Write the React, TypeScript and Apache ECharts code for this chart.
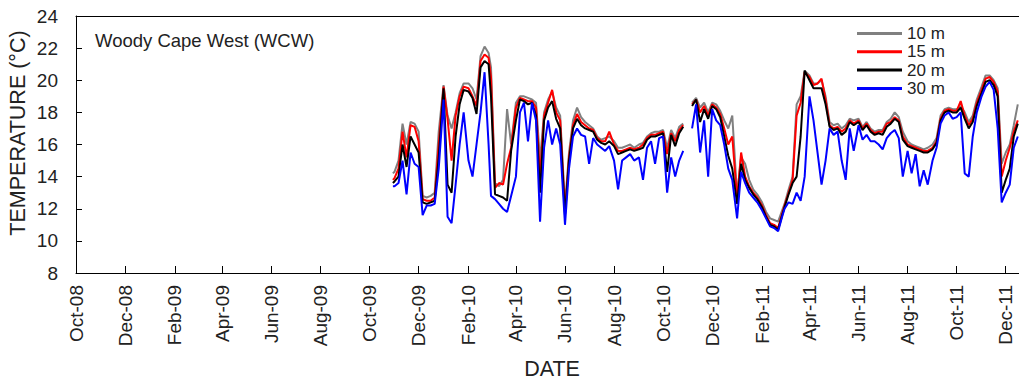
import React, { useEffect, useRef } from "react";
import * as echarts from "echarts";

const FONT = "'Liberation Sans', Arial, sans-serif";

const seriesNames = ["10 m", "15 m", "20 m", "30 m"];
const seriesColors = ["#808080", "#ff0000", "#000000", "#0000ff"];

const tickDates = [
  "2008-10-01", "2008-12-01", "2009-02-01", "2009-04-01", "2009-06-01", "2009-08-01",
  "2009-10-01", "2009-12-01", "2010-02-01", "2010-04-01", "2010-06-01", "2010-08-01",
  "2010-10-01", "2010-12-01", "2011-02-01", "2011-04-01", "2011-06-01", "2011-08-01",
  "2011-10-01", "2011-12-01",
];
const tickLabels = [
  "Oct-08", "Dec-08", "Feb-09", "Apr-09", "Jun-09", "Aug-09",
  "Oct-09", "Dec-09", "Feb-10", "Apr-10", "Jun-10", "Aug-10",
  "Oct-10", "Dec-10", "Feb-11", "Apr-11", "Jun-11", "Aug-11",
  "Oct-11", "Dec-11",
];

const dates = [
  "2009-10-30",
  "2009-11-01", "2009-11-06", "2009-11-11", "2009-11-16", "2009-11-21", "2009-11-26",
  "2009-12-01", "2009-12-06", "2009-12-11", "2009-12-16", "2009-12-21", "2009-12-26",
  "2010-01-01", "2010-01-06", "2010-01-11", "2010-01-16", "2010-01-21", "2010-01-26",
  "2010-02-01", "2010-02-06", "2010-02-11", "2010-02-16", "2010-02-21", "2010-02-26",
  "2010-03-01", "2010-03-06", "2010-03-11", "2010-03-16", "2010-03-21", "2010-03-26",
  "2010-04-01", "2010-04-06", "2010-04-11", "2010-04-16", "2010-04-21", "2010-04-26",
  "2010-05-01", "2010-05-06", "2010-05-11", "2010-05-16", "2010-05-21", "2010-05-26",
  "2010-06-01", "2010-06-06", "2010-06-11", "2010-06-16", "2010-06-21", "2010-06-26",
  "2010-07-01", "2010-07-06", "2010-07-11", "2010-07-16", "2010-07-21", "2010-07-26",
  "2010-08-01", "2010-08-06", "2010-08-11", "2010-08-16", "2010-08-21", "2010-08-26",
  "2010-09-01", "2010-09-06", "2010-09-11", "2010-09-16", "2010-09-21", "2010-09-26",
  "2010-10-01", "2010-10-06", "2010-10-11", "2010-10-16", "2010-10-21", "2010-10-26",
  "2010-11-01", "2010-11-06", "2010-11-11", "2010-11-16", "2010-11-21", "2010-11-26",
  "2010-12-01", "2010-12-06", "2010-12-11", "2010-12-16", "2010-12-21", "2010-12-26",
  "2011-01-01", "2011-01-06", "2011-01-11", "2011-01-16", "2011-01-21", "2011-01-26",
  "2011-02-01", "2011-02-06", "2011-02-11", "2011-02-16", "2011-02-21", "2011-02-26",
  "2011-03-01", "2011-03-06", "2011-03-11", "2011-03-16", "2011-03-21", "2011-03-26",
  "2011-04-01", "2011-04-06", "2011-04-11", "2011-04-16", "2011-04-21", "2011-04-26",
  "2011-05-01", "2011-05-06", "2011-05-11", "2011-05-16", "2011-05-21", "2011-05-26",
  "2011-06-01", "2011-06-06", "2011-06-11", "2011-06-16", "2011-06-21", "2011-06-26",
  "2011-07-01", "2011-07-06", "2011-07-11", "2011-07-16", "2011-07-21", "2011-07-26",
  "2011-08-01", "2011-08-06", "2011-08-11", "2011-08-16", "2011-08-21", "2011-08-26",
  "2011-09-01", "2011-09-06", "2011-09-11", "2011-09-16", "2011-09-21", "2011-09-26",
  "2011-10-01", "2011-10-06", "2011-10-11", "2011-10-16", "2011-10-21", "2011-10-26",
  "2011-11-01", "2011-11-06", "2011-11-11", "2011-11-16", "2011-11-21", "2011-11-26",
  "2011-12-01", "2011-12-06", "2011-12-11", "2011-12-16",
];

const temp10m = [
  14.2,
  14.3, 15.0, 17.3, 16.0, 17.4, 17.3,
  16.8, 12.8, 12.7, 12.8, 13.0, 16.8,
  19.7, 17.8, 17.0, 18.0, 19.2, 19.8,
  19.8, 19.5, 18.8, 21.5, 22.1, 21.7,
  20.8, 13.6, 13.4, 13.8, 18.2, 16.0,
  18.6, 19.0, 19.0, 18.9, 18.8, 18.6,
  15.0, 18.0, 18.8, 19.3, 18.3, 17.8,
  12.2, 15.5, 17.5, 18.3, 17.7, 17.4,
  17.2, 17.0, 16.5, 16.3, 16.4, 16.5,
  16.2, 15.8, 15.8, 15.9, 16.0, 15.8,
  16.0, 16.1, 16.5, 16.7, 16.8, 16.8,
  16.9, 15.8, 16.9, 16.4, 17.1, 17.3,
  null, 18.6, 18.9, 18.3, 18.6, 18.0,
  18.6, 18.5, 18.1, 17.5, 17.0, 17.8,
  12.8, 15.2, 14.8, 13.8, 13.2, 12.9,
  12.4, 11.8, 11.4, 11.3, 11.2, 11.9,
  12.3, 13.2, 14.0, 18.5, 19.0, 20.6,
  20.3, 19.8, 19.8, 20.0, 19.0, 17.4,
  17.2, 17.3, 17.0, 17.2, 17.6, 17.5,
  17.6, 17.1, 17.4, 17.0, 16.8, 16.9,
  16.9, 17.4, 17.6, 18.0, 17.7, 16.8,
  16.2, 16.0, 15.9, 15.8, 15.7, 15.8,
  16.0, 16.4, 17.8, 18.2, 18.3, 18.2,
  18.2, 18.4, 18.0, 17.4, 17.8, 18.8,
  19.6, 20.3, 20.3, 20.0, 19.5, 14.8,
  15.5, 16.0, 17.2, 18.5,
];

const temp15m = [
  13.8,
  13.9, 14.5, 16.8, 15.2, 17.2, 17.1,
  16.2, 12.6, 12.5, 12.5, 12.7, 16.0,
  19.6, 17.6, 15.0, 17.8, 19.0, 19.6,
  19.5, 19.0, 18.4, 21.2, 21.6, 21.4,
  20.2, 13.3, 13.6, 13.5, 14.8, 15.8,
  18.3, 18.9, 18.8, 18.7, 18.7, 18.3,
  14.0, 17.8, 18.6, 19.4, 18.0, 17.5,
  11.8, 15.2, 17.2, 17.9, 17.4, 17.2,
  17.0, 16.9, 16.4, 16.2, 16.2, 16.8,
  16.0, 15.6, 15.6, 15.7, 15.8, 15.7,
  15.8, 16.0, 16.4, 16.6, 16.6, 16.7,
  16.8, 15.4, 16.7, 16.2, 16.9, 17.2,
  null, 18.5, 18.8, 18.0, 18.4, 17.8,
  18.5, 18.3, 17.9, 17.0, 16.0, 16.5,
  12.6, 15.5, 14.0, 13.4, 13.0, 12.7,
  12.2, 11.6, 11.1, 11.0, 10.8, 11.7,
  12.2, 13.0, 13.8, 17.8, 18.6, 20.5,
  20.2, 19.7, 19.8, 20.1, 18.8, 17.2,
  17.0, 17.1, 16.8, 17.0, 17.5, 17.3,
  17.5, 17.0, 17.3, 16.9, 16.7, 16.8,
  16.8, 17.3, 17.4, 17.7, 17.5, 16.5,
  16.0, 15.9, 15.8, 15.7, 15.6, 15.6,
  15.8, 16.2, 17.6, 18.1, 18.2, 18.1,
  18.1, 18.7, 17.8, 17.2, 17.6, 18.6,
  19.4, 20.1, 20.2, 19.9, 19.3, 14.0,
  15.0, 15.8, 16.8, 17.5,
];

const temp20m = [
  13.6,
  13.7, 14.0, 16.0, 14.6, 16.5, 16.0,
  15.5, 12.4, 12.3, 12.4, 12.5, 15.2,
  19.5, 13.5, 13.0, 16.5, 18.5, 19.4,
  19.3, 18.9, 17.9, 20.8, 21.2, 21.0,
  19.0, 12.9, 12.8, 12.7, 12.5, 15.6,
  17.5, 18.8, 18.7, 18.5, 18.6, 17.8,
  13.0, 17.5, 18.3, 18.7, 17.6, 17.0,
  11.6, 15.0, 17.0, 17.6, 17.2, 17.0,
  16.9, 16.8, 16.3, 16.1, 16.0, 16.2,
  15.9, 15.4, 15.5, 15.6, 15.7, 15.6,
  15.7, 15.8, 16.3, 16.5, 16.5, 16.6,
  16.7, 14.3, 16.6, 15.9, 16.7, 17.1,
  null, 18.4, 18.8, 17.4, 18.2, 17.6,
  18.4, 18.2, 17.7, 16.5, 15.3, 14.5,
  12.3, 14.8, 13.8, 13.3, 12.9, 12.6,
  12.1, 11.5, 11.0, 10.9, 10.7, 11.6,
  12.1, 12.9, 13.6, 14.0, 16.5, 20.6,
  20.0, 19.5, 19.5, 19.5, 18.5, 17.1,
  16.9, 17.0, 16.6, 16.8, 17.4, 17.2,
  17.4, 16.9, 17.2, 16.8, 16.6, 16.7,
  16.6, 17.1, 17.3, 17.6, 17.4, 16.3,
  15.9, 15.8, 15.7, 15.6, 15.5, 15.5,
  15.7, 16.1, 17.5, 18.0, 18.1, 18.0,
  18.0, 18.3, 17.6, 17.0, 17.4, 18.4,
  19.2, 19.9, 20.0, 19.7, 19.0, 13.0,
  13.8, 14.5, 16.5, 17.3,
];

const temp30m = [
  13.4,
  13.4, 13.6, 15.0, 12.9, 15.5, 14.8,
  14.6, 11.6, 12.2, 12.2, 12.3, 14.5,
  18.8, 11.5, 11.1, 13.5, 16.0, 18.0,
  15.0, 14.0, 16.0, 18.0, 20.5, 16.0,
  12.8, 12.6, 12.3, 12.0, 11.8, 12.8,
  14.0, 18.0, 18.6, 16.2, 18.6, 17.5,
  11.2, 15.8, 17.5, 16.0, 17.0, 16.0,
  11.0, 14.5, 16.5, 17.0, 16.6, 16.5,
  14.8, 16.4, 16.0, 15.8, 15.6, 15.9,
  15.0, 13.2, 15.0, 15.2, 15.4, 15.0,
  15.2, 13.8, 15.8, 16.2, 14.8, 16.4,
  16.5, 13.0, 15.2, 14.0, 15.0, 15.6,
  null, 17.0, 18.5, 15.5, 17.5, 14.0,
  18.2, 17.5, 17.2, 16.0, 14.5, 13.8,
  11.4, 14.3, 13.6, 13.0, 12.7, 12.4,
  11.9, 11.4, 10.9, 10.8, 10.6, 11.5,
  12.0, 12.4, 12.3, 13.0, 12.5, 14.0,
  19.0, 17.5, 15.5, 13.5, 15.0, 17.0,
  16.6, 16.8, 15.0, 13.8, 17.0, 15.6,
  17.2, 16.3, 16.6, 16.2, 16.2, 16.0,
  15.7, 16.4, 16.7, 16.9, 16.4, 14.0,
  15.6, 14.2, 15.4, 13.4, 14.4, 13.5,
  15.0, 15.8, 17.3, 17.8, 18.0, 17.6,
  17.7, 18.0, 14.2, 14.0, 16.5, 18.0,
  19.0, 19.6, 19.9, 19.4, 17.0, 12.4,
  13.0, 13.5, 15.8, 16.5,
];

const xMin = "2008-10-01";
const xMax = "2011-12-17";

function toTs(s: string): number {
  const [y, m, d] = s.split("-").map(Number);
  return Date.UTC(y, m - 1, d);
}

export default function App() {
  const ref = useRef<HTMLDivElement>(null);

  useEffect(() => {
    if (!ref.current) return;
    const chart = echarts.init(ref.current, undefined, { renderer: "svg" });
    const tickTs = tickDates.map(toTs);
    const allSeries = [temp10m, temp15m, temp20m, temp30m];
    const minTs = toTs(xMin);
    const maxTs = toTs(xMax) + 12 * 3600 * 1000;

    const labelFor = (v: number) => {
      for (let i = 0; i < tickTs.length; i++) {
        if (Math.abs(tickTs[i] - v) < 86400000 / 2) return tickLabels[i];
      }
      return "";
    };

    chart.setOption({
      animation: false,
      textStyle: { fontFamily: FONT },
      grid: { left: 76, right: 0, top: 16, bottom: 111, containLabel: false },
      legend: {
        data: seriesNames,
        orient: "vertical",
        left: 857,
        top: 25,
        padding: 0,
        itemGap: 1.3,
        itemWidth: 45,
        itemHeight: 3,
        icon: "rect",
        textStyle: { fontSize: 17, color: "#222", fontFamily: FONT },
      },
      xAxis: [
        {
          type: "value",
          min: minTs,
          max: maxTs,
          axisLine: { show: true, lineStyle: { color: "#000", width: 1 } },
          axisTick: {
            show: true,
            inside: true,
            length: 7,
            customValues: tickTs,
            lineStyle: { color: "#000", width: 1 },
          },
          axisLabel: {
            customValues: tickTs,
            rotate: 90,
            margin: 12,
            fontSize: 19,
            color: "#222",
            fontFamily: FONT,
            formatter: (v: number) => labelFor(v),
          },
          splitLine: { show: false },
        },
        {
          type: "value",
          position: "top",
          min: minTs,
          max: maxTs,
          axisLine: { show: true, lineStyle: { color: "#000", width: 1 } },
          axisTick: { show: false },
          axisLabel: { show: false },
          splitLine: { show: false },
        },
      ],
      yAxis: {
        type: "value",
        min: 8,
        max: 24,
        interval: 2,
        axisLine: { show: true, lineStyle: { color: "#000", width: 1 } },
        axisTick: { show: true, inside: true, length: 6, lineStyle: { color: "#000" } },
        axisLabel: { fontSize: 19, color: "#222", margin: 18, fontFamily: FONT },
        splitLine: { show: false },
      },
      graphic: [
        {
          type: "text",
          x: 95,
          y: 40,
          style: {
            text: "Woody Cape West (WCW)",
            fontSize: 18.5,
            fill: "#222",
            fontFamily: FONT,
            verticalAlign: "middle",
          },
        },
        {
          type: "text",
          x: 552,
          y: 369,
          style: {
            text: "DATE",
            fontSize: 21.5,
            fill: "#222",
            fontFamily: FONT,
            align: "center",
            verticalAlign: "middle",
          },
        },
        {
          type: "text",
          x: 18,
          y: 133,
          rotation: Math.PI / 2,
          style: {
            text: "TEMPERATURE (°C)",
            fontSize: 21.5,
            fill: "#222",
            fontFamily: FONT,
            align: "center",
            verticalAlign: "middle",
          },
        },
      ],
      series: seriesNames.map((name, i) => ({
        name,
        type: "line",
        xAxisIndex: 0,
        showSymbol: false,
        connectNulls: false,
        color: seriesColors[i],
        lineStyle: { color: seriesColors[i], width: 2 },
        data: dates.map((d, j) => [toTs(d), allSeries[i][j]]),
        z: 2 + i,
      })),
    });

    return () => chart.dispose();
  }, []);

  return (
    <div
      ref={ref}
      style={{ position: "absolute", left: 0, top: 0, width: 1019, height: 384 }}
    />
  );
}
